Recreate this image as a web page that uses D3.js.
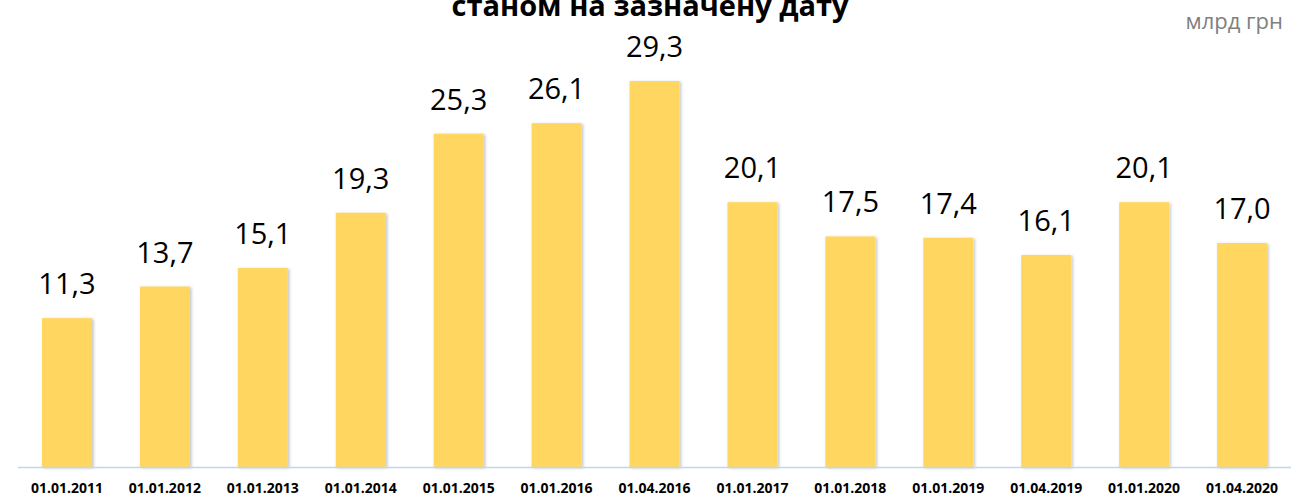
<!DOCTYPE html>
<html>
<head>
<meta charset="utf-8">
<script src="https://cdn.jsdelivr.net/npm/d3@7"></script>
<style>
  body { margin: 0; background: #fff; }
  svg { display: block; }
</style>
</head>
<body>
<script>
// dates and values (млрд грн)
var dates = ["01.01.2011", "01.01.2012", "01.01.2013", "01.01.2014", "01.01.2015", "01.01.2016",
             "01.04.2016", "01.01.2017", "01.01.2018", "01.01.2019", "01.04.2019", "01.01.2020", "01.04.2020"];
var values = [11.3, 13.7, 15.1, 19.3, 25.3, 26.1, 29.3, 20.1, 17.5, 17.4, 16.1, 20.1, 17.0];

var w = 1291;
var h = 497;
var baseY = 467;

var svg = d3.select("body")
            .append("svg")
            .attr("width", w)
            .attr("height", h);

// soft shadow under the bars
var defs = svg.append("defs");
var f = defs.append("filter").attr("id", "shadow")
            .attr("x", "-20%").attr("y", "-5%").attr("width", "140%").attr("height", "110%");
f.append("feDropShadow").attr("dx", 1.5).attr("dy", 1).attr("stdDeviation", 1.5)
 .attr("flood-color", "#000").attr("flood-opacity", 0.25);

var xScale = d3.scaleBand()
               .domain(dates)
               .range([18, 1291])
               .paddingInner(0.49)
               .paddingOuter(0.245);

var yScale = d3.scaleLinear()
               .domain([0, 29.3])
               .range([baseY, 81]);

// bars
svg.selectAll("rect.bar")
   .data(values)
   .enter()
 .append("rect")
   .attr("class", "bar")
   .attr("x", function(d, i){ return xScale(dates[i]); })
   .attr("y", function(d){ return yScale(d); })
   .attr("width", xScale.bandwidth())
   .attr("height", function(d){ return baseY - yScale(d); })
   .attr("fill", "#FFD65F")
   .attr("filter", "url(#shadow)");

// baseline
svg.append("line")
   .attr("x1", 18).attr("x2", 1291)
   .attr("y1", baseY + 0.5).attr("y2", baseY + 0.5)
   .attr("stroke", "#BDD7EE")
   .attr("stroke-width", 1.5);

// value labels
svg.selectAll("text.val")
   .data(values)
   .enter()
 .append("text")
   .attr("class", "val")
   .attr("x", function(d, i){ return xScale(dates[i]) + xScale.bandwidth() / 2; })
   .attr("y", function(d){ return yScale(d) - 24; })
   .attr("text-anchor", "middle")
   .style("font-family", "'Open Sans'")
   .style("font-size", "29px")
   .style("fill", "#000")
   .text(function(d){ return d.toFixed(1).replace(".", ","); });

// x axis labels
var xAxis = d3.axisBottom(xScale).tickSize(0).tickPadding(0);
var gx = svg.append("g")
   .attr("transform", "translate(0," + (baseY + 16) + ")")
   .call(xAxis);
gx.select(".domain").remove();
gx.selectAll("text")
   .style("font-family", "'Open Sans'")
   .style("font-weight", "bold")
   .style("font-size", "14px")
   .style("fill", "#000");

// title (first line is cut off at the top, as in the original)
svg.append("text")
   .attr("x", 650)
   .attr("y", 16)
   .attr("text-anchor", "middle")
   .style("font-family", "'Open Sans'")
   .style("font-weight", "bold")
   .style("font-size", "29px")
   .text("станом на зазначену дату");

svg.append("text")
   .attr("x", 1283)
   .attr("y", 29)
   .attr("text-anchor", "end")
   .style("font-family", "'Open Sans'")
   .style("font-size", "22px")
   .style("fill", "#808080")
   .text("млрд грн");
</script>
</body>
</html>
